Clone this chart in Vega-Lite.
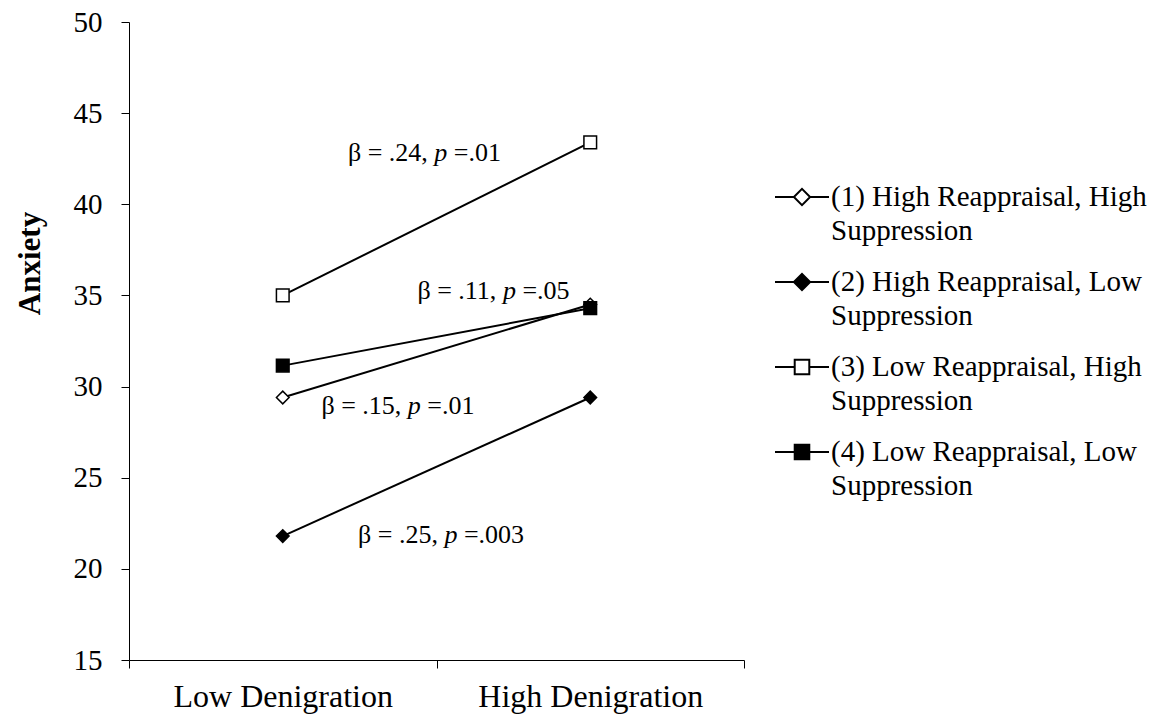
{
  "$schema": "https://vega.github.io/schema/vega-lite/v6.json",
  "width": 615,
  "height": 638,
  "autosize": {"type": "none"},
  "padding": {"left": 129, "top": 22, "right": 412, "bottom": 58},
  "background": "white",
  "config": {
    "view": {"stroke": null},
    "font": "Liberation Serif"
  },
  "datasets": {
    "points": [
      {"series": "(1) High Reappraisal, High Suppression", "denigration": 1, "anxiety": 29.4},
      {"series": "(1) High Reappraisal, High Suppression", "denigration": 2, "anxiety": 34.5},
      {"series": "(2) High Reappraisal, Low Suppression", "denigration": 1, "anxiety": 21.8},
      {"series": "(2) High Reappraisal, Low Suppression", "denigration": 2, "anxiety": 29.4},
      {"series": "(3) Low Reappraisal, High Suppression", "denigration": 1, "anxiety": 35.0},
      {"series": "(3) Low Reappraisal, High Suppression", "denigration": 2, "anxiety": 43.4},
      {"series": "(4) Low Reappraisal, Low Suppression", "denigration": 1, "anxiety": 31.15},
      {"series": "(4) Low Reappraisal, Low Suppression", "denigration": 2, "anxiety": 34.3}
    ],
    "notes": [
      {"pre": "β = .24,", "post": "=.01", "x": 1.514, "y": 42.4},
      {"pre": "β = .11,", "post": "=.05", "x": 1.737, "y": 34.78},
      {"pre": "β = .15,", "post": "=.01", "x": 1.428, "y": 28.47},
      {"pre": "β = .25,", "post": "=.003", "x": 1.547, "y": 21.43}
    ]
  },
  "layer": [
    {
      "data": {"name": "points"},
      "mark": {"type": "line", "color": "black", "strokeWidth": 2},
      "encoding": {
        "x": {
          "field": "denigration", "type": "quantitative",
          "scale": {"domain": [0.5, 2.5], "nice": false, "zero": false},
          "axis": {
            "values": [0.5, 1, 1.5, 2, 2.5],
            "labelExpr": "datum.value == 1 ? 'Low Denigration' : datum.value == 2 ? 'High Denigration' : ''",
            "title": null, "grid": false,
            "tickSize": 8, "tickColor": "black", "domainColor": "black",
            "tickOpacity": {"condition": {"test": "datum.value == 1 || datum.value == 2", "value": 0}, "value": 1},
            "labelFont": "Liberation Serif", "labelFontSize": 32, "labelColor": "black", "labelLimit": 400,
            "labelPadding": 13, "labelFlush": false, "labelOverlap": false, "labelBound": false
          }
        },
        "y": {
          "field": "anxiety", "type": "quantitative",
          "scale": {"domain": [15, 50], "nice": false, "zero": false},
          "axis": {
            "values": [15, 20, 25, 30, 35, 40, 45, 50],
            "title": "Anxiety", "titleFont": "Liberation Serif", "titleFontSize": 31,
            "titleFontWeight": "bold", "titleColor": "black",
            "titleX": -99, "titleY": 241, "titleAngle": 270,
            "titleAlign": "center", "titleBaseline": "middle",
            "grid": false, "tickSize": 8, "tickColor": "black", "domainColor": "black",
            "labelFont": "Liberation Serif", "labelFontSize": 29, "labelColor": "black", "labelPadding": 19
          }
        },
        "detail": {"field": "series"}
      }
    },
    {
      "data": {"name": "points"},
      "mark": {"type": "point", "opacity": 0, "size": 2916, "stroke": "black", "strokeWidth": 2},
      "encoding": {
        "x": {"field": "denigration", "type": "quantitative"},
        "y": {"field": "anxiety", "type": "quantitative"},
        "shape": {
          "field": "series", "type": "nominal",
          "scale": {"range": [
            "M-1,0H-0.3M0.3,0H1M-0.3,0L0,-0.3L0.3,0L0,0.3Z",
            "M-1,0H-0.3M0.3,0H1M-0.3,0L0,-0.3L0.3,0L0,0.3Z",
            "M-1,0H-0.27M0.27,0H1M-0.27,-0.27H0.27V0.27H-0.27Z",
            "M-1,0H-0.27M0.27,0H1M-0.27,-0.27H0.27V0.27H-0.27Z"
          ]},
          "legend": {
            "orient": "none", "legendX": 645, "legendY": 147, "title": null, "padding": 0,
            "labelFont": "Liberation Serif", "labelFontSize": 29, "labelColor": "black",
            "labelLimit": 500, "labelOffset": 1, "rowPadding": 8,
            "symbolSize": 2916, "symbolStrokeWidth": 2, "symbolStrokeColor": "black",
            "labelExpr": "[split(datum.label, ' Suppression')[0], 'Suppression']",
            "encode": {
              "symbols": {"update": {"opacity": {"value": 1}, "stroke": {"value": "black"}, "strokeWidth": {"value": 2}}},
              "labels": {"update": {"lineHeight": {"value": 34}}}
            }
          }
        },
        "fill": {
          "field": "series", "type": "nominal",
          "scale": {"range": ["white", "black", "white", "black"]},
          "legend": {
            "orient": "none", "legendX": 645, "legendY": 147, "title": null, "padding": 0,
            "labelFont": "Liberation Serif", "labelFontSize": 29, "labelColor": "black",
            "labelLimit": 500, "labelOffset": 1, "rowPadding": 8,
            "symbolSize": 2916, "symbolStrokeWidth": 2, "symbolStrokeColor": "black",
            "labelExpr": "[split(datum.label, ' Suppression')[0], 'Suppression']",
            "encode": {
              "symbols": {"update": {"opacity": {"value": 1}, "stroke": {"value": "black"}, "strokeWidth": {"value": 2}}},
              "labels": {"update": {"lineHeight": {"value": 34}}}
            }
          }
        }
      }
    },
    {
      "data": {"name": "points"},
      "mark": {"type": "point", "size": 160, "stroke": "black", "strokeWidth": 1.5, "opacity": 1},
      "encoding": {
        "x": {"field": "denigration", "type": "quantitative"},
        "y": {"field": "anxiety", "type": "quantitative"},
        "shape": {
          "field": "series", "type": "nominal",
          "scale": {"range": ["diamond", "diamond", "square", "square"]},
          "legend": null
        },
        "fill": {
          "field": "series", "type": "nominal",
          "scale": {"range": ["white", "black", "white", "black"]},
          "legend": null
        }
      }
    },
    {
      "data": {"name": "notes"},
      "mark": {"type": "text", "align": "right", "dx": -13, "baseline": "alphabetic", "fontSize": 26, "font": "Liberation Serif", "color": "black"},
      "encoding": {
        "x": {"field": "x", "type": "quantitative"},
        "y": {"field": "y", "type": "quantitative"},
        "text": {"field": "pre"}
      }
    },
    {
      "data": {"name": "notes"},
      "mark": {"type": "text", "align": "center", "baseline": "alphabetic", "fontSize": 26, "font": "Liberation Serif", "fontStyle": "italic", "color": "black", "text": "p"},
      "encoding": {
        "x": {"field": "x", "type": "quantitative"},
        "y": {"field": "y", "type": "quantitative"}
      }
    },
    {
      "data": {"name": "notes"},
      "mark": {"type": "text", "align": "left", "dx": 13, "baseline": "alphabetic", "fontSize": 26, "font": "Liberation Serif", "color": "black"},
      "encoding": {
        "x": {"field": "x", "type": "quantitative"},
        "y": {"field": "y", "type": "quantitative"},
        "text": {"field": "post"}
      }
    }
  ],
  "resolve": {"scale": {"shape": "independent", "fill": "independent"}}
}
